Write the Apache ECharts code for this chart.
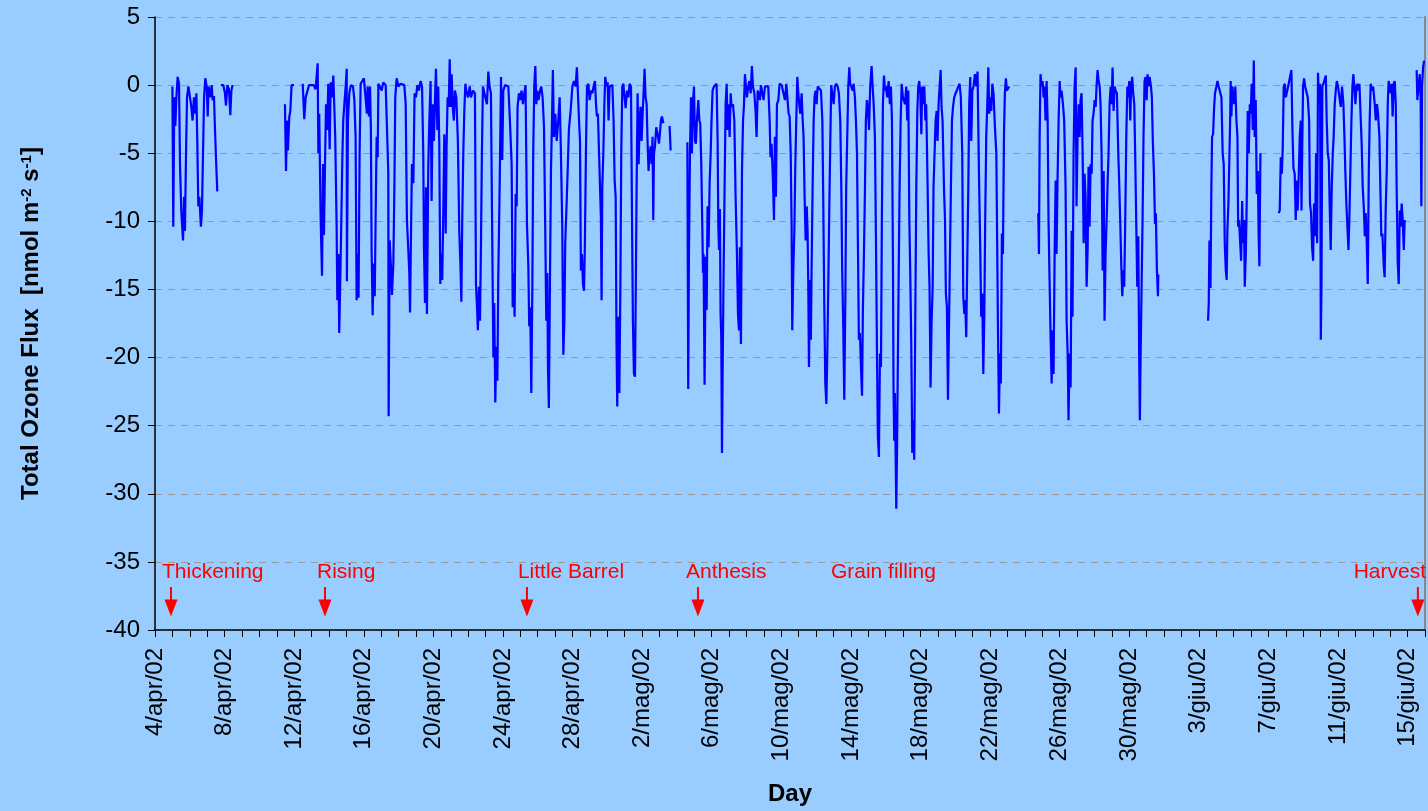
<!DOCTYPE html>
<html><head><meta charset="utf-8">
<script src="https://cdn.jsdelivr.net/npm/echarts@6.0.0/dist/echarts.min.js"></script>
<style>html,body{margin:0;padding:0;background:#99ccff;}#c{width:1428px;height:811px;}</style>
</head><body><div id="c"></div>
<script>
// x = days since 4/apr/2002 00:00, y = total ozone flux [nmol m-2 s-1]
const monthNames = ['gen','feb','mar','apr','mag','giu','lug','ago','set','ott','nov','dic'];
const yTicks = {min: -40, max: 5, step: 5};
const seg1 = [[1.00,-0.1],[1.05,-10.4],[1.11,-0.9],[1.17,-3.0],[1.23,-0.9],[1.30,0.6],[1.38,0.1],[1.44,-6.0],[1.51,-9.2],[1.61,-11.4],[1.67,-8.2],[1.72,-10.7],[1.78,-5.3],[1.84,-0.9],[1.92,-0.1],[2.01,0],[2.09,-1.6],[2.16,-2.6],[2.24,-0.9],[2.32,-2.1],[2.38,-0.6],[2.43,-4.1],[2.49,-8.9],[2.55,-8.2],[2.61,-9.7],[2.64,-10.4],[2.70,-9.2],[2.76,-5.0],[2.82,-0.9],[2.89,0.5],[2.97,-0.1],[3.03,-2.3],[3.08,-0.1],[3.16,-0.9],[3.26,0],[3.31,-1.1],[3.39,-0.8],[3.45,-3.3],[3.51,-5.5],[3.58,-7.8]];
const seg2 = [[3.79,0],[3.93,0],[4.02,-0.6],[4.08,-1.5],[4.16,0],[4.25,-0.3],[4.33,-2.2],[4.39,-0.4],[4.46,0]];
const seg3 = [[7.47,-1.4],[7.53,-6.3],[7.59,-2.6],[7.64,-4.8],[7.72,-2.3],[7.78,-1.9],[7.85,0],[7.99,0]];
const seg4 = [[8.49,0.1],[8.58,-2.5],[8.66,-0.9],[8.75,-0.5],[8.85,0],[8.97,0],[9.12,0],[9.23,-0.3],[9.31,-0.4],[9.35,1.6],[9.39,-5.0],[9.44,-2.1],[9.52,-9.7],[9.60,-14.0],[9.66,-5.8],[9.71,-11.0],[9.77,-6.0],[9.83,-1.4],[9.90,-3.3],[9.96,0.1],[10.04,-4.7],[10.10,0.2],[10.17,-0.9],[10.25,0.7],[10.31,0.8],[10.36,-3.8],[10.44,-10.4],[10.48,-15.8],[10.54,-12.4],[10.59,-18.2],[10.65,-14.3],[10.71,-9.9],[10.77,-5.3],[10.82,-2.6],[10.90,-1.1],[10.96,-0.1],[11.02,1.2],[11.03,-14.4],[11.09,-2.6],[11.17,-0.6],[11.26,0],[11.38,-0.1],[11.46,-1.1],[11.53,-3.8],[11.59,-15.8],[11.65,-12.4],[11.70,-15.6],[11.76,-5.0],[11.82,0.1],[11.92,0.1],[12.01,0.5],[12.09,0.6],[12.18,-2.1],[12.22,-0.1],[12.30,-2.3],[12.36,-0.1],[12.41,-3.3],[12.45,-12.0],[12.51,-16.9],[12.57,-13.1],[12.63,-15.5],[12.68,-9.9],[12.74,-3.8],[12.80,-5.3],[12.84,0.1],[12.93,0.1],[13.03,-0.4],[13.12,0.2],[13.26,0],[13.35,-0.1],[13.41,-6.4],[13.43,-24.3],[13.49,-11.4],[13.56,-13.3],[13.62,-15.4],[13.70,-13.1],[13.76,-7.5],[13.81,-0.9],[13.89,0.5],[13.99,-0.1],[14.12,0.1],[14.23,0.1],[14.33,0],[14.41,-1.4],[14.48,-9.9],[14.56,-12.1],[14.62,-13.8],[14.66,-16.7],[14.71,-11.4],[14.77,-5.8],[14.85,-7.2],[14.92,-0.6],[15.00,-0.9],[15.08,0],[15.17,-0.4],[15.27,0.3],[15.35,-0.1],[15.42,-5.0],[15.46,-11.9],[15.52,-16.0],[15.58,-7.5],[15.63,-16.8],[15.67,-11.4],[15.71,-5.8],[15.77,-2.6],[15.84,0.3],[15.90,-8.5],[15.96,-1.4],[16.03,-4.1],[16.11,-0.4],[16.15,1.2],[16.23,-3.3],[16.28,-0.1],[16.34,-4.3],[16.40,-14.6],[16.46,-12.4],[16.51,-14.3],[16.57,-9.4],[16.63,-3.6],[16.71,-10.9],[16.76,-4.5],[16.82,-0.9],[16.88,-1.6],[16.94,1.9],[16.99,-1.6],[17.05,0.8],[17.13,-1.9],[17.18,-2.6],[17.24,-0.4],[17.32,-0.9],[17.41,-4.1],[17.49,-10.7],[17.55,-12.9],[17.61,-15.9],[17.66,-9.9],[17.72,-5.0],[17.78,-1.9],[17.84,0.1],[17.89,-0.4],[17.99,-0.9],[18.09,-0.1],[18.16,-0.9],[18.28,-0.4],[18.39,-0.6],[18.45,-14.6],[18.51,-16.3],[18.56,-18.0],[18.62,-14.8],[18.68,-17.3],[18.74,-11.4],[18.79,-5.0],[18.85,-0.1],[18.93,0],[19.02,-1.1],[19.08,-1.4],[19.16,1.0],[19.23,-0.1],[19.31,-0.6],[19.37,-9.2],[19.45,-20.0],[19.50,-16.0],[19.56,-23.3],[19.62,-19.2],[19.68,-21.7],[19.73,-14.3],[19.81,-7.5],[19.89,0.6],[19.96,-5.5],[20.02,-0.4],[20.12,0],[20.21,0.1],[20.31,-0.1],[20.40,-2.6],[20.50,-5.8],[20.56,-16.3],[20.61,-13.8],[20.67,-17.0],[20.73,-8.0],[20.79,-8.9],[20.84,-1.6],[20.92,-0.6],[20.99,-1.1],[21.07,-0.4],[21.15,-1.4],[21.23,-0.6],[21.30,0],[21.38,-10.2],[21.46,-13.3],[21.51,-17.7],[21.57,-16.3],[21.63,-22.6],[21.69,-14.8],[21.74,-5.0],[21.80,-0.1],[21.86,1.4],[21.92,-1.4],[21.97,-0.4],[22.05,-1.1],[22.13,-0.4],[22.20,-0.1],[22.28,-0.9],[22.36,-3.1],[22.43,-10.4],[22.49,-17.3],[22.55,-13.8],[22.59,-20.9],[22.64,-23.7],[22.70,-14.8],[22.76,-6.3],[22.82,-2.6],[22.87,1.1],[22.93,-3.8],[23.01,-2.1],[23.09,-4.1],[23.18,-2.6],[23.26,-0.9],[23.33,-4.8],[23.41,-10.4],[23.47,-19.8],[23.53,-17.3],[23.58,-11.6],[23.66,-8.7],[23.72,-6.3],[23.79,-3.3],[23.89,-1.9],[23.99,-0.1],[24.08,0.3],[24.18,-0.1],[24.25,1.3],[24.33,1.4],[24.39,-3.1],[24.43,-4.1],[24.48,-13.6],[24.54,-12.4],[24.60,-14.6],[24.66,-15.1],[24.71,-11.6],[24.77,-5.0],[24.83,-0.1],[24.91,0.1],[24.98,-1.1],[25.06,-0.4],[25.14,-0.6],[25.21,-0.1],[25.29,0.3],[25.35,-1.4],[25.40,-2.3],[25.46,-2.1],[25.52,-4.8],[25.58,-7.5],[25.63,-9.7],[25.67,-15.8],[25.71,-7.5],[25.77,-5.0],[25.83,-1.4],[25.88,0.6],[25.96,-0.1],[26.02,0.2],[26.07,-2.6],[26.13,-0.1],[26.21,-0.1],[26.29,0],[26.36,-2.6],[26.42,-7.0],[26.48,-8.2],[26.53,-19.0],[26.57,-23.6],[26.63,-17.0],[26.69,-22.6],[26.75,-14.8],[26.80,-5.0],[26.86,-0.1],[26.92,0.1],[26.99,-0.9],[27.05,-1.7],[27.13,-0.4],[27.21,-0.9],[27.28,0.1],[27.36,-0.1],[27.42,-9.9],[27.47,-17.3],[27.53,-21.2],[27.59,-21.4],[27.63,-15.8],[27.68,-8.0],[27.74,-0.6],[27.80,-5.8],[27.86,-2.6],[27.91,-1.6],[27.97,-4.1],[28.03,-2.1],[28.09,-0.4],[28.14,1.2],[28.20,-0.9],[28.26,-1.4],[28.32,-4.5],[28.37,-6.3],[28.43,-5.0],[28.49,-4.5],[28.55,-5.8],[28.60,-3.8],[28.64,-9.9],[28.68,-5.0],[28.74,-4.5],[28.81,-3.1],[28.89,-3.6],[28.97,-4.3],[29.02,-3.6],[29.08,-2.6],[29.14,-2.3],[29.22,-2.8]];
const seg5 = [[29.58,-3.0],[29.64,-4.8]];
const seg6 = [[30.60,-4.2],[30.65,-22.3],[30.69,-12.6],[30.75,-5.0],[30.81,-0.9],[30.86,-5.0],[30.92,-1.4],[30.98,-0.1],[31.04,-4.1],[31.09,-4.3],[31.15,-2.6],[31.23,-1.1],[31.29,-2.6],[31.34,-2.8],[31.40,-5.8],[31.46,-10.4],[31.50,-13.8],[31.53,-12.4],[31.59,-22.0],[31.65,-12.6],[31.71,-16.5],[31.76,-8.9],[31.82,-11.9],[31.88,-7.2],[31.94,-5.0],[31.99,-2.6],[32.05,-0.4],[32.13,-0.1],[32.21,0],[32.28,0.1],[32.34,-4.1],[32.38,-10.3],[32.42,-12.1],[32.47,-9.1],[32.51,-16.8],[32.55,-18.5],[32.59,-27.0],[32.63,-20.7],[32.68,-14.1],[32.74,-7.5],[32.80,-1.4],[32.86,0.1],[32.91,-3.3],[32.97,-1.4],[33.03,-3.8],[33.09,-0.6],[33.14,-1.6],[33.22,-1.4],[33.30,-2.6],[33.37,-8.0],[33.45,-12.4],[33.51,-16.8],[33.57,-18.0],[33.62,-11.9],[33.68,-19.0],[33.74,-6.3],[33.80,-2.6],[33.85,-1.6],[33.91,0.8],[33.97,-0.1],[34.02,-0.9],[34.10,-0.1],[34.16,0.3],[34.24,-0.6],[34.31,1.4],[34.37,-0.1],[34.45,-0.6],[34.52,-1.9],[34.58,-3.8],[34.64,-0.4],[34.70,-0.6],[34.77,-1.1],[34.83,0],[34.91,-0.1],[34.98,-1.1],[35.06,-0.1],[35.16,0],[35.25,-0.1],[35.33,-2.6],[35.38,-5.3],[35.44,-4.3],[35.52,-7.0],[35.58,-9.9],[35.63,-3.8],[35.69,-8.2],[35.75,-1.4],[35.83,-1.1],[35.90,0.1],[36.02,0],[36.11,0.1],[36.21,-1.1],[36.29,0.1],[36.36,-1.1],[36.42,-2.1],[36.48,-2.3],[36.54,-5.0],[36.59,-9.9],[36.63,-18.0],[36.69,-13.6],[36.75,-10.7],[36.80,-6.3],[36.86,-2.6],[36.92,0.6],[36.98,-0.6],[37.03,-1.4],[37.09,-2.1],[37.17,-0.6],[37.23,-2.6],[37.28,-3.8],[37.34,-8.2],[37.40,-11.4],[37.46,-8.9],[37.51,-10.7],[37.55,-14.6],[37.59,-20.7],[37.65,-14.3],[37.70,-18.7],[37.74,-13.6],[37.80,-7.5],[37.86,-2.6],[37.91,-0.9],[37.97,-0.4],[38.03,-1.4],[38.09,-0.1],[38.18,0],[38.28,-0.4],[38.36,-2.6],[38.41,-8.2],[38.47,-16.0],[38.53,-21.9],[38.59,-23.4],[38.64,-20.0],[38.70,-14.8],[38.76,-8.9],[38.82,-3.8],[38.87,0],[38.93,-0.6],[39.01,-1.4],[39.08,-0.1],[39.16,0.1],[39.24,-0.1],[39.31,-0.6],[39.39,-2.6],[39.45,-7.5],[39.50,-13.6],[39.56,-17.7],[39.62,-23.1],[39.68,-15.8],[39.73,-7.5],[39.79,-3.8],[39.85,-0.1],[39.91,1.3],[39.96,0.1],[40.02,-0.1],[40.10,-0.4],[40.16,0.1],[40.23,-0.9],[40.29,-2.6],[40.35,-5.0],[40.41,-12.4],[40.46,-18.7],[40.52,-18.2],[40.58,-20.7],[40.64,-22.8],[40.69,-16.5],[40.75,-12.4],[40.81,-7.5],[40.86,-2.6],[40.92,-1.1],[40.98,-1.6],[41.04,-3.3],[41.11,-0.1],[41.19,1.4],[41.25,-0.1],[41.31,-1.4],[41.38,-3.8],[41.44,-11.1],[41.50,-19.7],[41.55,-25.8],[41.61,-27.3],[41.67,-19.7],[41.73,-20.7],[41.78,-9.9],[41.84,-1.4],[41.90,0.7],[41.96,-0.4],[42.01,-0.1],[42.09,-0.9],[42.17,0.3],[42.24,-1.4],[42.30,-0.1],[42.36,-2.6],[42.42,-13.3],[42.45,-22.2],[42.49,-26.1],[42.53,-22.6],[42.57,-27.0],[42.61,-31.1],[42.65,-27.0],[42.68,-22.9],[42.74,-14.8],[42.80,-7.5],[42.86,-2.6],[42.92,0.1],[42.99,-0.9],[43.05,-0.9],[43.11,-1.4],[43.18,-0.1],[43.24,-2.6],[43.30,-0.4],[43.36,-9.9],[43.41,-13.6],[43.47,-19.0],[43.53,-27.0],[43.59,-24.6],[43.64,-27.5],[43.70,-17.3],[43.76,-7.5],[43.82,-1.9],[43.87,-0.1],[43.93,0.3],[43.99,-0.6],[44.05,-3.6],[44.10,-0.1],[44.16,-1.4],[44.22,-0.1],[44.28,-2.6],[44.33,-1.4],[44.41,-7.5],[44.47,-12.4],[44.52,-14.8],[44.58,-22.2],[44.64,-17.3],[44.70,-14.8],[44.75,-7.5],[44.81,-5.0],[44.87,-2.6],[44.93,-1.9],[44.98,-4.1],[45.04,-1.4],[45.10,-0.1],[45.16,1.1],[45.21,-1.6],[45.27,-2.6],[45.35,-7.5],[45.41,-9.9],[45.46,-15.3],[45.52,-16.3],[45.58,-23.1],[45.63,-18.5],[45.69,-12.9],[45.75,-7.5],[45.81,-2.6],[45.87,-1.6],[45.94,-0.9],[46.02,-0.6],[46.09,-0.4],[46.17,-0.1],[46.25,0.1],[46.32,-0.9],[46.40,-5.0],[46.46,-15.5],[46.52,-16.8],[46.57,-15.8],[46.63,-18.5],[46.69,-12.9],[46.75,-7.5],[46.80,-1.4],[46.86,0.6],[46.92,-4.1],[46.98,-0.4],[47.05,-0.1],[47.13,0.8],[47.21,-0.1],[47.28,1.0],[47.36,-6.3],[47.44,-12.4],[47.49,-17.0],[47.55,-15.3],[47.61,-21.2],[47.67,-16.8],[47.72,-9.9],[47.78,-3.8],[47.84,-1.4],[47.90,1.3],[47.95,-2.1],[48.01,-0.9],[48.07,-1.9],[48.13,0.1],[48.20,-0.6],[48.28,-3.1],[48.36,-5.0],[48.45,-17.3],[48.51,-24.1],[48.57,-19.7],[48.62,-21.9],[48.68,-10.9],[48.74,-12.4],[48.80,-3.6],[48.85,-0.6],[48.91,0.5],[48.97,-0.4],[49.05,-0.5],[49.10,-0.1]];
const seg7 = [[50.77,-9.4],[50.81,-12.4],[50.85,-3.8],[50.90,0.8],[50.96,-0.1],[51.02,0.3],[51.08,-0.9],[51.13,-0.1],[51.19,-2.6],[51.25,0.3],[51.31,-2.6],[51.36,-9.9],[51.42,-14.3],[51.48,-18.5],[51.54,-21.9],[51.59,-18.0],[51.65,-21.2],[51.71,-12.4],[51.77,-7.0],[51.82,-12.4],[51.88,-6.8],[51.94,-2.6],[52.00,0.3],[52.05,-0.9],[52.11,-0.4],[52.19,-1.4],[52.26,-2.6],[52.34,-7.5],[52.40,-17.3],[52.46,-19.7],[52.51,-24.6],[52.57,-19.7],[52.63,-22.2],[52.69,-10.7],[52.74,-17.0],[52.80,-5.0],[52.86,-0.1],[52.92,1.3],[52.97,-8.9],[53.03,-3.8],[53.09,-1.4],[53.15,-3.8],[53.20,-1.1],[53.26,-0.6],[53.32,-5.0],[53.38,-11.6],[53.43,-6.5],[53.49,-8.2],[53.55,-14.8],[53.61,-11.9],[53.66,-6.0],[53.72,-10.4],[53.78,-5.8],[53.84,-6.5],[53.89,-2.6],[53.95,-2.1],[54.01,-1.1],[54.07,-1.6],[54.12,-0.1],[54.18,1.1],[54.24,0.3],[54.30,-0.1],[54.35,-1.4],[54.41,-5.0],[54.47,-13.6],[54.53,-6.3],[54.58,-17.3],[54.64,-12.4],[54.70,-9.9],[54.75,-7.5],[54.81,-5.0],[54.87,-1.4],[54.93,-0.1],[54.99,-1.4],[55.04,1.3],[55.10,-1.9],[55.16,-0.1],[55.21,-0.4],[55.29,-0.6],[55.37,-5.0],[55.43,-7.5],[55.48,-9.9],[55.54,-13.1],[55.60,-15.5],[55.66,-13.6],[55.71,-14.8],[55.77,-9.9],[55.83,-3.8],[55.89,-0.1],[55.94,-0.9],[56.00,0.3],[56.06,-2.6],[56.11,-0.1],[56.17,0.6],[56.23,-0.6],[56.29,-1.4],[56.34,-5.0],[56.40,-9.9],[56.46,-14.8],[56.52,-11.1],[56.57,-19.7],[56.61,-24.6],[56.65,-20.2],[56.71,-14.8],[56.77,-9.4],[56.82,-3.8],[56.88,0.3],[56.94,0.6],[57.00,-1.1],[57.05,0.8],[57.11,-0.1],[57.17,0.6],[57.25,-0.1],[57.30,-0.9],[57.36,-4.3],[57.42,-6.5],[57.48,-10.2],[57.53,-9.4],[57.59,-13.6],[57.65,-15.5],[57.67,-13.9]];
const seg8 = [[60.53,-17.3],[60.57,-16.0],[60.61,-11.4],[60.67,-14.9],[60.72,-7.5],[60.76,-3.8],[60.82,-3.6],[60.88,-1.6],[60.93,-0.6],[61.01,-0.1],[61.07,0.3],[61.14,-0.1],[61.22,0],[61.30,-0.9],[61.37,-5.0],[61.43,-5.8],[61.49,-11.6],[61.55,-13.6],[61.60,-14.3],[61.64,-10.7],[61.70,-8.7],[61.76,-5.0],[61.80,-2.6],[61.83,0.3],[61.87,-2.3],[61.93,-0.1],[61.99,-0.9],[62.04,-1.4],[62.10,-0.1],[62.16,-2.6],[62.22,-3.8],[62.26,-10.4],[62.31,-9.9],[62.37,-11.4],[62.43,-12.9],[62.49,-8.5],[62.54,-11.6],[62.60,-9.9],[62.64,-14.8],[62.70,-12.4],[62.75,-8.7],[62.81,-1.9],[62.87,-5.0],[62.93,-1.4],[62.98,-2.1],[63.04,0.1],[63.10,-3.3],[63.16,1.8],[63.21,-3.8],[63.27,-1.1],[63.33,-8.0],[63.39,-6.3],[63.44,-11.1],[63.48,-13.3],[63.54,-5.0]];
const seg9 = [[64.59,-9.4],[64.65,-9.2],[64.71,-5.3],[64.77,-6.5],[64.82,-4.7],[64.88,-0.1],[64.94,0.1],[65.00,-0.9],[65.10,-0.3],[65.32,1.1],[65.38,-3.3],[65.44,-6.1],[65.51,-6.5],[65.57,-9.9],[65.63,-7.0],[65.68,-9.2],[65.74,-6.8],[65.80,-3.8],[65.86,-2.6],[65.90,-9.2],[65.94,-5.0],[65.99,-0.1],[66.05,0.5],[66.11,-0.1],[66.18,-0.1],[66.26,-0.9],[66.34,-2.6],[66.39,-8.7],[66.45,-9.4],[66.51,-11.9],[66.57,-12.9],[66.62,-8.7],[66.68,-11.1],[66.74,-5.0],[66.80,-11.6],[66.85,0.9],[66.91,-1.4],[66.97,0.1],[67.01,-18.7],[67.05,-14.8],[67.10,-0.1],[67.16,0.1],[67.24,0],[67.30,0.7],[67.35,-2.6],[67.41,-5.0],[67.47,-5.5],[67.52,-8.7],[67.58,-12.1],[67.64,-7.5],[67.70,-5.0],[67.75,-3.8],[67.81,-1.4],[67.87,-0.4],[67.93,0.3],[68.00,-0.1],[68.08,-0.9],[68.16,-1.6],[68.23,-0.1],[68.31,-1.4],[68.37,-3.8],[68.42,-6.3],[68.48,-8.7],[68.54,-10.4],[68.60,-12.1],[68.65,-9.9],[68.71,-6.3],[68.77,-2.6],[68.83,-0.1],[68.88,0.8],[68.94,-0.1],[69.00,-1.4],[69.06,-0.1],[69.11,0.1],[69.17,-0.4],[69.23,0.1],[69.31,-2.6],[69.36,-4.3],[69.42,-7.5],[69.48,-8.9],[69.54,-11.1],[69.59,-9.4],[69.65,-11.4],[69.71,-14.6],[69.77,-6.3],[69.82,-2.6],[69.88,0.1],[69.94,-0.4],[70.02,-0.1],[70.11,-1.4],[70.17,-2.6],[70.24,-1.4],[70.30,-2.1],[70.38,-3.8],[70.44,-8.0],[70.49,-11.1],[70.55,-10.9],[70.63,-13.3],[70.68,-14.1],[70.74,-9.2],[70.80,-6.3],[70.86,-1.4],[70.91,0.3],[70.97,-0.1],[71.03,-0.6],[71.09,0.1],[71.14,-2.3],[71.20,0.1],[71.26,0.3],[71.32,-1.4],[71.37,-7.5],[71.43,-12.9],[71.49,-14.6],[71.55,-9.2],[71.60,-10.4],[71.66,-8.7],[71.72,-9.9],[71.78,-12.1],[71.83,-9.9]];
const seg10 = [[72.52,1.1],[72.56,-1.1],[72.63,-0.1],[72.70,0.8],[72.75,-0.9],[72.79,-8.9],[72.83,-0.1],[72.89,1.3],[72.95,1.8]];
const segments = [seg1, seg2, seg3, seg4, seg5, seg6, seg7, seg8, seg9, seg10];

const stageNames = ['Thickening','Rising','Little Barrel','Anthesis','Grain filling','Harvest'];
const stageTextDay = [0.40, 9.31, 20.86, 30.52, 38.85, 68.90];
const stageArrowDay = [0.92, 9.77, 21.38, 31.21, null, 72.59];
const stageTextValue = -35.75;
const arrowTopValue = -36.85;
const arrowTipValue = -39.0;

const lineData = [];
segments.forEach((s, i) => {
  if (i > 0) lineData.push([(segments[i-1][segments[i-1].length-1][0] + s[0][0]) / 2, '-']);
  s.forEach(p => lineData.push(p));
});

function dayLabel(v) {
  if (v % 4 !== 0 || v > 72) return '';
  const d = new Date(2002, 3, 4 + v);
  return d.getDate() + '/' + monthNames[d.getMonth()] + '/02';
}

const FONT = "'Liberation Sans', Arial, sans-serif";
const chart = echarts.init(document.getElementById('c'), null, {renderer: 'canvas'});
chart.setOption({
  backgroundColor: '#99ccff',
  animation: false,
  grid: {left: 155, right: 3, top: 17, bottom: 180, containLabel: false},
  xAxis: {
    type: 'value', min: 0, max: 73, interval: 1,
    name: 'Day', nameLocation: 'middle', nameGap: 152,
    nameTextStyle: {fontFamily: FONT, fontSize: 24, fontWeight: 'bold', color: '#000'},
    axisLine: {show: true, onZero: false, lineStyle: {color: '#000', width: 1.5}},
    axisTick: {show: true, length: 7, lineStyle: {color: '#000', width: 1}},
    axisLabel: {rotate: 90, margin: 18, fontFamily: FONT, fontSize: 24, color: '#000', formatter: dayLabel, showMinLabel: true, showMaxLabel: true},
    splitLine: {show: false}
  },
  yAxis: [{
    type: 'value', min: yTicks.min, max: yTicks.max, interval: yTicks.step,
    name: 'Total Ozone Flux  [nmol m{sup|-2} s{sup|-1}]',
    nameLocation: 'middle', nameGap: 112, nameRotate: 90,
    nameTextStyle: {fontFamily: FONT, fontSize: 24, fontWeight: 'bold', color: '#000',
      rich: {sup: {fontFamily: FONT, fontSize: 15, fontWeight: 'bold', color: '#000', verticalAlign: 'top', lineHeight: 24}}},
    axisLine: {show: true, lineStyle: {color: '#000', width: 1.5}},
    axisTick: {show: true, length: 7, lineStyle: {color: '#000', width: 1}},
    axisLabel: {margin: 15, fontFamily: FONT, fontSize: 24, color: '#000'},
    splitLine: {show: true, lineStyle: {color: '#999999', type: [7, 6], width: 1}}
  }, {
    type: 'value', min: yTicks.min, max: yTicks.max, position: 'right',
    axisLine: {show: true, lineStyle: {color: '#888888', width: 2}},
    axisTick: {show: false}, axisLabel: {show: false}, splitLine: {show: false}
  }],
  series: [{
    type: 'line', data: lineData, showSymbol: false, symbol: 'none',
    connectNulls: false, sampling: null,
    lineStyle: {color: '#0000ff', width: 2.2}, z: 3
  }, {
    type: 'custom', z: 5, clip: false,
    data: stageNames.map((n, i) => [stageTextDay[i], stageTextValue]),
    renderItem: function (params, api) {
      const p = api.coord([api.value(0), api.value(1)]);
      return {type: 'text', x: p[0], y: p[1], style: {text: stageNames[params.dataIndex], fill: '#ff0000', font: '21px ' + FONT, align: 'left', verticalAlign: 'middle'}};
    }
  }, {
    type: 'custom', z: 5, clip: false,
    data: stageArrowDay.filter(d => d !== null).map(d => [d, arrowTopValue, arrowTipValue]),
    renderItem: function (params, api) {
      const top = api.coord([api.value(0), api.value(1)]);
      const tip = api.coord([api.value(0), api.value(2)]);
      const headH = 17, headW = 13;
      return {type: 'group', children: [
        {type: 'line', shape: {x1: top[0], y1: top[1], x2: tip[0], y2: tip[1] - headH + 1}, style: {stroke: '#ff0000', lineWidth: 2}},
        {type: 'polygon', shape: {points: [[tip[0] - headW / 2, tip[1] - headH], [tip[0] + headW / 2, tip[1] - headH], [tip[0], tip[1]]]}, style: {fill: '#ff0000'}}
      ]};
    }
  }]
});
</script></body></html>
